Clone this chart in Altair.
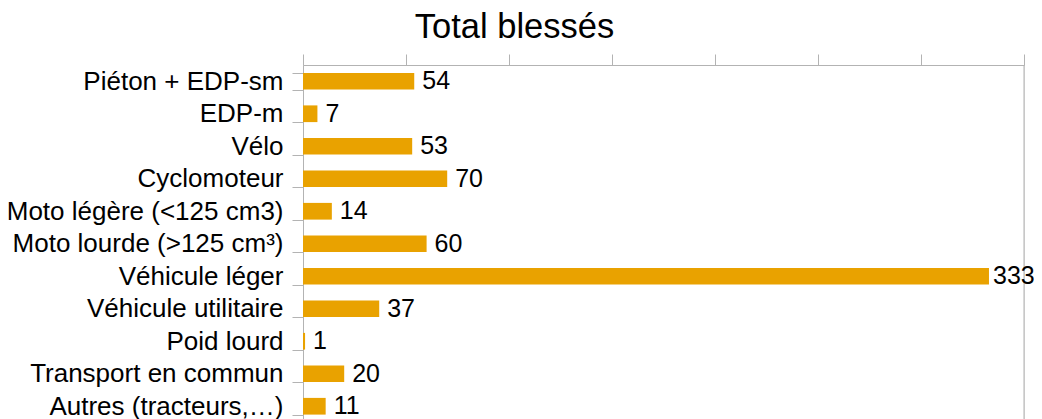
import altair as alt
import pandas as pd

categories = [
    "Piéton + EDP-sm",
    "EDP-m",
    "Vélo",
    "Cyclomoteur",
    "Moto légère (<125 cm3)",
    "Moto lourde (>125 cm³)",
    "Véhicule léger",
    "Véhicule utilitaire",
    "Poid lourd",
    "Transport en commun",
    "Autres (tracteurs,…)",
]
values = [54, 7, 53, 70, 14, 60, 333, 37, 1, 20, 11]
x_ticks = [0, 50, 100, 150, 200, 250, 300, 350]
x_max = [350]

df = pd.DataFrame({"cat": categories, "val": values})
df_max = pd.DataFrame({"m": x_max})

GRAY = "#b3b3b3"
BAR = "#e9a200"
FONT = "Liberation Sans"

y_scale = alt.Scale(paddingInner=0.486, paddingOuter=0.243, range=[0, 357.5])

y_enc = alt.Y(
    "cat:N",
    sort=categories,
    scale=y_scale,
    axis=alt.Axis(
        title=None,
        orient="left",
        labelFontSize=26,
        labelFont=FONT,
        labelColor="black",
        labelPadding=9,
        tickSize=11,
        tickColor=GRAY,
        domainColor=GRAY,
        tickBand="extent",
        grid=False,
        labelLimit=400,
    ),
)
x_scale = alt.Scale(domain=[0, 350], nice=False, zero=True)
x_enc = alt.X(
    "val:Q",
    scale=x_scale,
    axis=alt.Axis(
        title=None,
        orient="top",
        values=x_ticks,
        labels=False,
        tickSize=11,
        tickColor=GRAY,
        domainColor=GRAY,
        grid=False,
    ),
)

bars = alt.Chart(df).mark_bar(color=BAR).encode(x=x_enc, y=y_enc)
text_enc = dict(x="val:Q", y=alt.Y("cat:N", sort=categories), text="val:Q")
text_short = (
    alt.Chart(df)
    .transform_filter(alt.datum.val < 300)
    .mark_text(align="left", baseline="middle", dx=8, fontSize=25, font=FONT, color="black")
    .encode(**text_enc)
)
text_long = (
    alt.Chart(df)
    .transform_filter(alt.datum.val >= 300)
    .mark_text(align="left", baseline="middle", dx=4, fontSize=25, font=FONT, color="black")
    .encode(**text_enc)
)
edge = alt.Chart(df_max).mark_rule(color=GRAY, strokeWidth=1).encode(x="m:Q")

chart = (
    alt.layer(bars, text_short, edge, text_long)
    .properties(
        width=721,
        height=354,
        title=alt.Title(
            "Total blessés",
            fontSize=34.5,
            font=FONT,
            fontWeight="normal",
            color="black",
            anchor="middle",
            frame="group",
            dx=-149,
            dy=24,
            offset=4,
            baseline="alphabetic",
        ),
        autosize=alt.AutoSizeParams(type="none"),
        padding={"left": 295, "top": 57, "right": 10, "bottom": 0},
    )
    .configure_view(stroke=None)
    .configure(background="white")
)

chart.save("out.html", embed_options={"renderer": "svg", "actions": False})
